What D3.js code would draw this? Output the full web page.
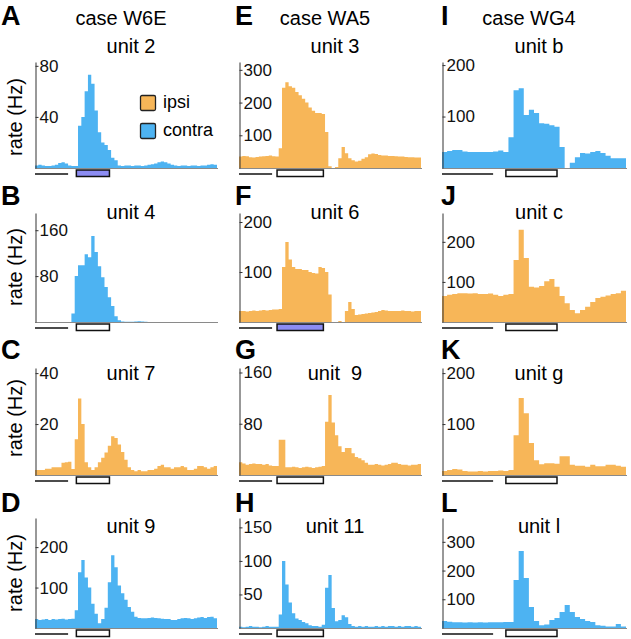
<!DOCTYPE html>
<html>
<head>
<meta charset="utf-8">
<script src="https://cdn.jsdelivr.net/npm/d3@7"></script>
<style>
  body { margin: 0; background: #fff; }
  svg { display: block; font-family: "Liberation Sans", Arial, Helvetica, sans-serif; }
</style>
</head>
<body>
<svg id="chart"></svg>
<script>
const width = 631;
const height = 639;

// Column / panel labels
const caseNames = ["case W6E", "case WA5", "case WG4"];
const panelLetters = ["A", "B", "C", "D", "E", "F", "G", "H", "I", "J", "K", "L"];
const unitNames = ["unit 2", "unit 4", "unit 7", "unit 9", "unit 3", "unit 6", "unit  9", "unit 11", "unit b", "unit c", "unit g", "unit l"];
const panelSide = ["contra", "contra", "ipsi", "contra", "ipsi", "ipsi", "ipsi", "contra", "contra", "ipsi", "ipsi", "contra"];
const stimFilled = [true, false, false, false, false, true, false, false, false, false, false, false];

// Axes: y maximum and tick values per panel
const yMax = [83, 190, 42, 272, 324, 218, 167, 164, 206, 272, 210, 383];
const yTicks = [[40, 80], [80, 160], [20, 40], [100, 200], [100, 200, 300], [100, 200], [80, 160], [50, 100, 150], [100, 200], [100, 200], [100, 200], [100, 200, 300]];

// Time (ms) per column, 10 ms bins starting at the domain start
const timeDomains = [[-125, 425], [-115, 435], [-125, 235]];
const stimWindows = [[0, 100], [0, 140], [0, 100]];
const scaleBarMs = 100;
const binMs = 10;

// Firing rates (Hz), one value per bin
const rateA = [2,2.5,2,1.5,1.5,2,2.5,4,4.5,3.5,2,1.5,1.5, 33,40,60,73,66,45,28,20,18,14,8,6,2, 1.5,2,2,1.5,2,2,1.5,2,2.5,3,3.5,4.5,5,4.5,3.5,2.5,2,1.5,2,2,1.5,2,2,1.5,2,2,2.5,3,2.5];
const rateB = [0,0,0,0,0,0,0,0,0,0,0, 15,80,99,99,118,113,150,122,97,78,61,43,28,10,3, 1,0.5,0.5,0.5,1,1.5,1,0.5,0,0,0,0,0,0,0,0,0,0,0,0,0,0,0,0,0,0,0,0,0];
const rateC = [2,2,2,2.5,2.5,3,3,3,4.8,5,5.2,2.4, 14,30,20,5,3,2,3,5,6.8,8.8,11.5,15.2,14.5,12,9,6,3, 2,1.5,2,1.5,1.5,2,2,2.5,3.5,4,3,3,2.5,3,3,3.5,3,2,2,2.5,3.5,3.5,3,2.5,3,3.5];
const rateD = [22,20,21,22,20,22,21,22,23,21,22,23, 44,138,168,125,100,60,35,12,22,50,113,180,150,105,86,70,52,40,28, 25,24,24,25,26,25,24,23,22,22,20,20,22,24,25,24,22,24,26,27,25,27,28,24];
const rateE = [35,37,36,33,32,34,35,36,37,38,36,35, 60,245,262,250,245,232,222,212,200,185,175,168,168,165,110,5,0,3,30,64,45,30,24,20,22,28,33,42,44,43,40,38,38,37,37,36,35,35,34,33,33,32,32];
const rateF = [22,22,21,22,23,22,23,24,23,24,25,25, 26,110,160,125,110,106,106,104,104,100,98,97,110,108,100,55, 0,0,2,0,22,40,26,14,15,16,17,18,19,20,22,24,23,22,22,22,22,23,22,22,21,22,22];
const rateG = [20,18,16,17,18,17,17,16,17,15,14,14, 55,55, 12,12,13,12,11,12,13,12,11,12,13,14, 83,125,82,62,45,36,42,42,34,28,26,23,19, 16,16,17,16,15,16,17,19,19,17,16,16,15,16,16,17];
const rateH = [2,1,2,3,2,2,1,2,3,2,2,2, 20,100,65,38,22,14,12,9,7,4,3,3,2,5,60,79,30,10,12,19,16,6, 3,2,3,2,3,2,2,3,2,3,2,3,3,2,3,2,3,3,2,3,2];
const rateI = [31,33,35,35,32,31,31,31,31,31,32,34,31, 60,151,155,103,113,107,87,86,83,80,41, 0,10,21,29,28,31,33,29,24,19,19,19];
const rateJ = [65,68,70,72,72,71,72,70,70,71,68,65,68,70, 155,230,160,88,86,90,102,107,88,65,47,30,22,30,38,50,60,63,66,70,72,78];
const rateK = [8,10,12,11,8,7,7,8,7,8,8,9,8,10, 78,151,121,63,29,21,23,23,22,37,37,20,18,18,16,20,17,17,20,20,18,16];
const rateL = [24,22,20,20,19,20,19,20,19,20,20,20,21,21, 167,268,174,73,24,10,12,28,35,56,80,56,38,31,24,21,10,8,5,5,14,5];

const rates = [rateA, rateB, rateC, rateD, rateE, rateF, rateG, rateH, rateI, rateJ, rateK, rateL];

const legendLabels = ["ipsi", "contra"];
const colors = { ipsi: "#f7b658", contra: "#4db3f2" };
const stimColor = "#8c8cf2";

// Layout
const colX = [35, 239, 442];
const colW = [182, 182, 184];
const rowBase = [168, 322, 475, 628];
const rowTop = [62, 213, 368, 518];
const letterX = [1, 235, 441];
const letterY = [25, 205, 359, 512];
const unitY = [53, 219, 380, 533];
const rateLabelY = [117, 267, 418, 573];

const svg = d3.select("#chart").attr("width", width).attr("height", height);

// Column titles
svg.selectAll("text.case")
  .data(caseNames)
  .join("text")
  .attr("class", "case")
  .attr("x", (d, i) => colX[i] + colW[i] / 2 - 5)
  .attr("y", 25)
  .attr("text-anchor", "middle")
  .style("font-size", "20px")
  .text((d) => d);

rates.forEach((values, p) => {
  const col = Math.floor(p / 4);
  const row = p % 4;
  const dom = timeDomains[col];
  const base = rowBase[row];

  const x = d3.scaleLinear().domain(dom).range([colX[col], colX[col] + colW[col]]);
  const y = d3.scaleLinear().domain([0, yMax[p]]).range([base, rowTop[row]]);

  const g = svg.append("g");

  // histogram as a step area
  const pts = values.map((v, i) => [dom[0] + i * binMs, v]);
  pts.push([dom[0] + values.length * binMs, values[values.length - 1]]);
  const area = d3.area()
    .x((d) => x(d[0]))
    .y0(base)
    .y1((d) => y(d[1]))
    .curve(d3.curveStepAfter);
  g.append("path")
    .attr("d", area(pts))
    .attr("fill", colors[panelSide[p]]);

  // baseline
  g.append("line")
    .attr("x1", colX[col]).attr("x2", colX[col] + colW[col] + 1)
    .attr("y1", base + 0.5).attr("y2", base + 0.5)
    .attr("stroke", "#8a8a8a")
    .attr("stroke-width", 1);

  // y axis on the left edge, labels inside
  const axis = d3.axisRight(y)
    .tickValues(yTicks[p])
    .tickSize(3)
    .tickSizeOuter(0)
    .tickPadding(1)
    .tickFormat(d3.format("d"));
  const ag = g.append("g")
    .attr("transform", `translate(${colX[col] + 0.5},0)`)
    .call(axis);
  ag.select(".domain").attr("stroke", "#333");
  ag.selectAll(".tick line").attr("stroke", "#333");
  ag.selectAll(".tick text")
    .attr("fill", "#111")
    .style("font-size", "17px")
    .style("font-family", "'Liberation Sans', Arial, sans-serif");

  // scale bar and stimulus box
  g.append("line")
    .attr("x1", x(dom[0])).attr("x2", x(dom[0] + scaleBarMs))
    .attr("y1", base + 6).attr("y2", base + 6)
    .attr("stroke", "#111")
    .attr("stroke-width", 1.6);
  const sw = stimWindows[col];
  g.append("rect")
    .attr("x", x(sw[0])).attr("y", base + 2)
    .attr("width", x(sw[1]) - x(sw[0])).attr("height", 6.5)
    .attr("fill", stimFilled[p] ? stimColor : "#fff")
    .attr("stroke", "#111")
    .attr("stroke-width", 1.5);

  // panel letter and unit title
  svg.append("text")
    .attr("x", letterX[col])
    .attr("y", letterY[row])
    .style("font-size", "27px")
    .style("font-weight", "bold")
    .text(panelLetters[p]);
  svg.append("text")
    .attr("x", colX[col] + colW[col] / 2 + 5)
    .attr("y", unitY[row])
    .attr("text-anchor", "middle")
    .style("font-size", "20px")
    .style("white-space", "pre")
    .attr("xml:space", "preserve")
    .text(unitNames[p]);

  if (col === 0) {
    svg.append("text")
      .attr("transform", `translate(15,${rateLabelY[row]}) rotate(-90)`)
      .attr("text-anchor", "middle")
      .attr("dy", "0.35em")
      .style("font-size", "20px")
      .text("rate (Hz)");
  }
});

// legend in panel A
const legend = svg.append("g").attr("transform", "translate(140,95)");
legendLabels.forEach((name, i) => {
  legend.append("rect")
    .attr("x", 0.5).attr("y", i * 28 + 0.5)
    .attr("width", 15).attr("height", 15)
    .attr("rx", 1.5)
    .attr("fill", colors[name])
    .attr("stroke", "#222")
    .attr("stroke-width", 1.3);
  legend.append("text")
    .attr("x", 23).attr("y", i * 28 + 13)
    .style("font-size", "18px")
    .text(name);
});
</script>
</body>
</html>
